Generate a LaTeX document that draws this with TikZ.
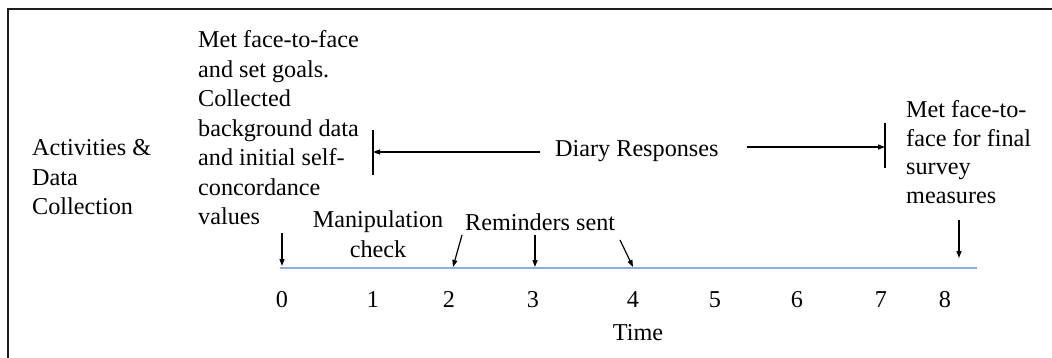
\documentclass[tikz,border=0pt]{standalone}
\usepackage{fontspec}
\setmainfont{Liberation Serif}
\usetikzlibrary{arrows.meta}
\definecolor{axisblue}{RGB}{143,170,220}
\definecolor{framegray}{RGB}{30,30,30}
\tikzset{
  txt/.style={inner sep=0pt, align=left, font=\fontsize{24.2}{29.5}\selectfont},
  num/.style={inner sep=0pt, anchor=base, font=\fontsize{24.2}{29.5}\selectfont},
  pointer/.style={line width=1.2pt, -{Triangle[length=7pt,width=5pt]}},
  bar/.style={line width=1.2pt},
  timeaxis/.style={line width=2pt, draw=axisblue}
}
\begin{document}
\begin{tikzpicture}[x=1pt, y=-1pt]
\useasboundingbox (0,0) rectangle (1052,358);
% frame (top and left edges)
\draw[line width=2pt, framegray] (8,370) -- (8,9) -- (1060,9);

% row label
\node[txt, anchor=north west] (act) at (32,134.85)
  {\strut Activities \&\\Data\\Collection};

% first meeting
\node[txt, anchor=north west] (first) at (198,26.85)
  {\strut Met face-to-face\\and set goals.\\Collected\\background data\\and initial self-\\concordance\\values};

% final meeting
\node[txt, anchor=north west, font=\fontsize{24.2}{28.5}\selectfont] (final) at (906,97.55)
  {\strut Met face-to-\\face for final\\survey\\measures};

% diary period
\node[txt, anchor=base west] (diary) at (555,156.5) {Diary Responses};
\coordinate (dbL1) at (373,130);
\coordinate (dbL2) at (373,175);
\coordinate (dbR1) at (885,123);
\coordinate (dbR2) at (885,168);
\coordinate (daL) at (540,152);
\coordinate (daLt) at (373,152);
\coordinate (daR) at (747,147);
\coordinate (daRt) at (885,147);
\draw[bar] (dbL1) -- (dbL2);
\draw[bar] (dbR1) -- (dbR2);
\draw[pointer] (daL) -- (daLt);
\draw[pointer] (daR) -- (daRt);

% other events
\node[txt, anchor=north, align=center, font=\fontsize{24.2}{30}\selectfont] (manip) at (378,206.5)
  {\strut Manipulation\\check};
\node[txt, anchor=base west] (remind) at (465,230.5) {Reminders sent};

% time axis
\coordinate (ax0) at (280,268);
\coordinate (ax1) at (977,268);
\draw[timeaxis] (ax0) -- (ax1);

\node[num] (t0) at (282,307) {0};
\node[num] (t1) at (373,307) {1};
\node[num] (t2) at (449,307) {2};
\node[num] (t3) at (533,307) {3};
\node[num] (t4) at (633,307) {4};
\node[num] (t5) at (715,307) {5};
\node[num] (t6) at (797,307) {6};
\node[num] (t7) at (881,307) {7};
\node[num] (t8) at (945,307) {8};
\node[num] (time) at (638,340.5) {Time};

% event pointers
\coordinate (p0a) at (282,233);
\coordinate (p0b) at (282,266);
\coordinate (r1a) at (462,235);
\coordinate (r1b) at (453,267);
\coordinate (r2a) at (535,235);
\coordinate (r2b) at (535,267);
\coordinate (r3a) at (620,240);
\coordinate (r3b) at (633,267);
\coordinate (p8a) at (959,220);
\coordinate (p8b) at (959,258);
\draw[pointer] (p0a) -- (p0b);
\draw[pointer] (r1a) -- (r1b);
\draw[pointer] (r2a) -- (r2b);
\draw[pointer] (r3a) -- (r3b);
\draw[pointer] (p8a) -- (p8b);
\end{tikzpicture}
\end{document}
